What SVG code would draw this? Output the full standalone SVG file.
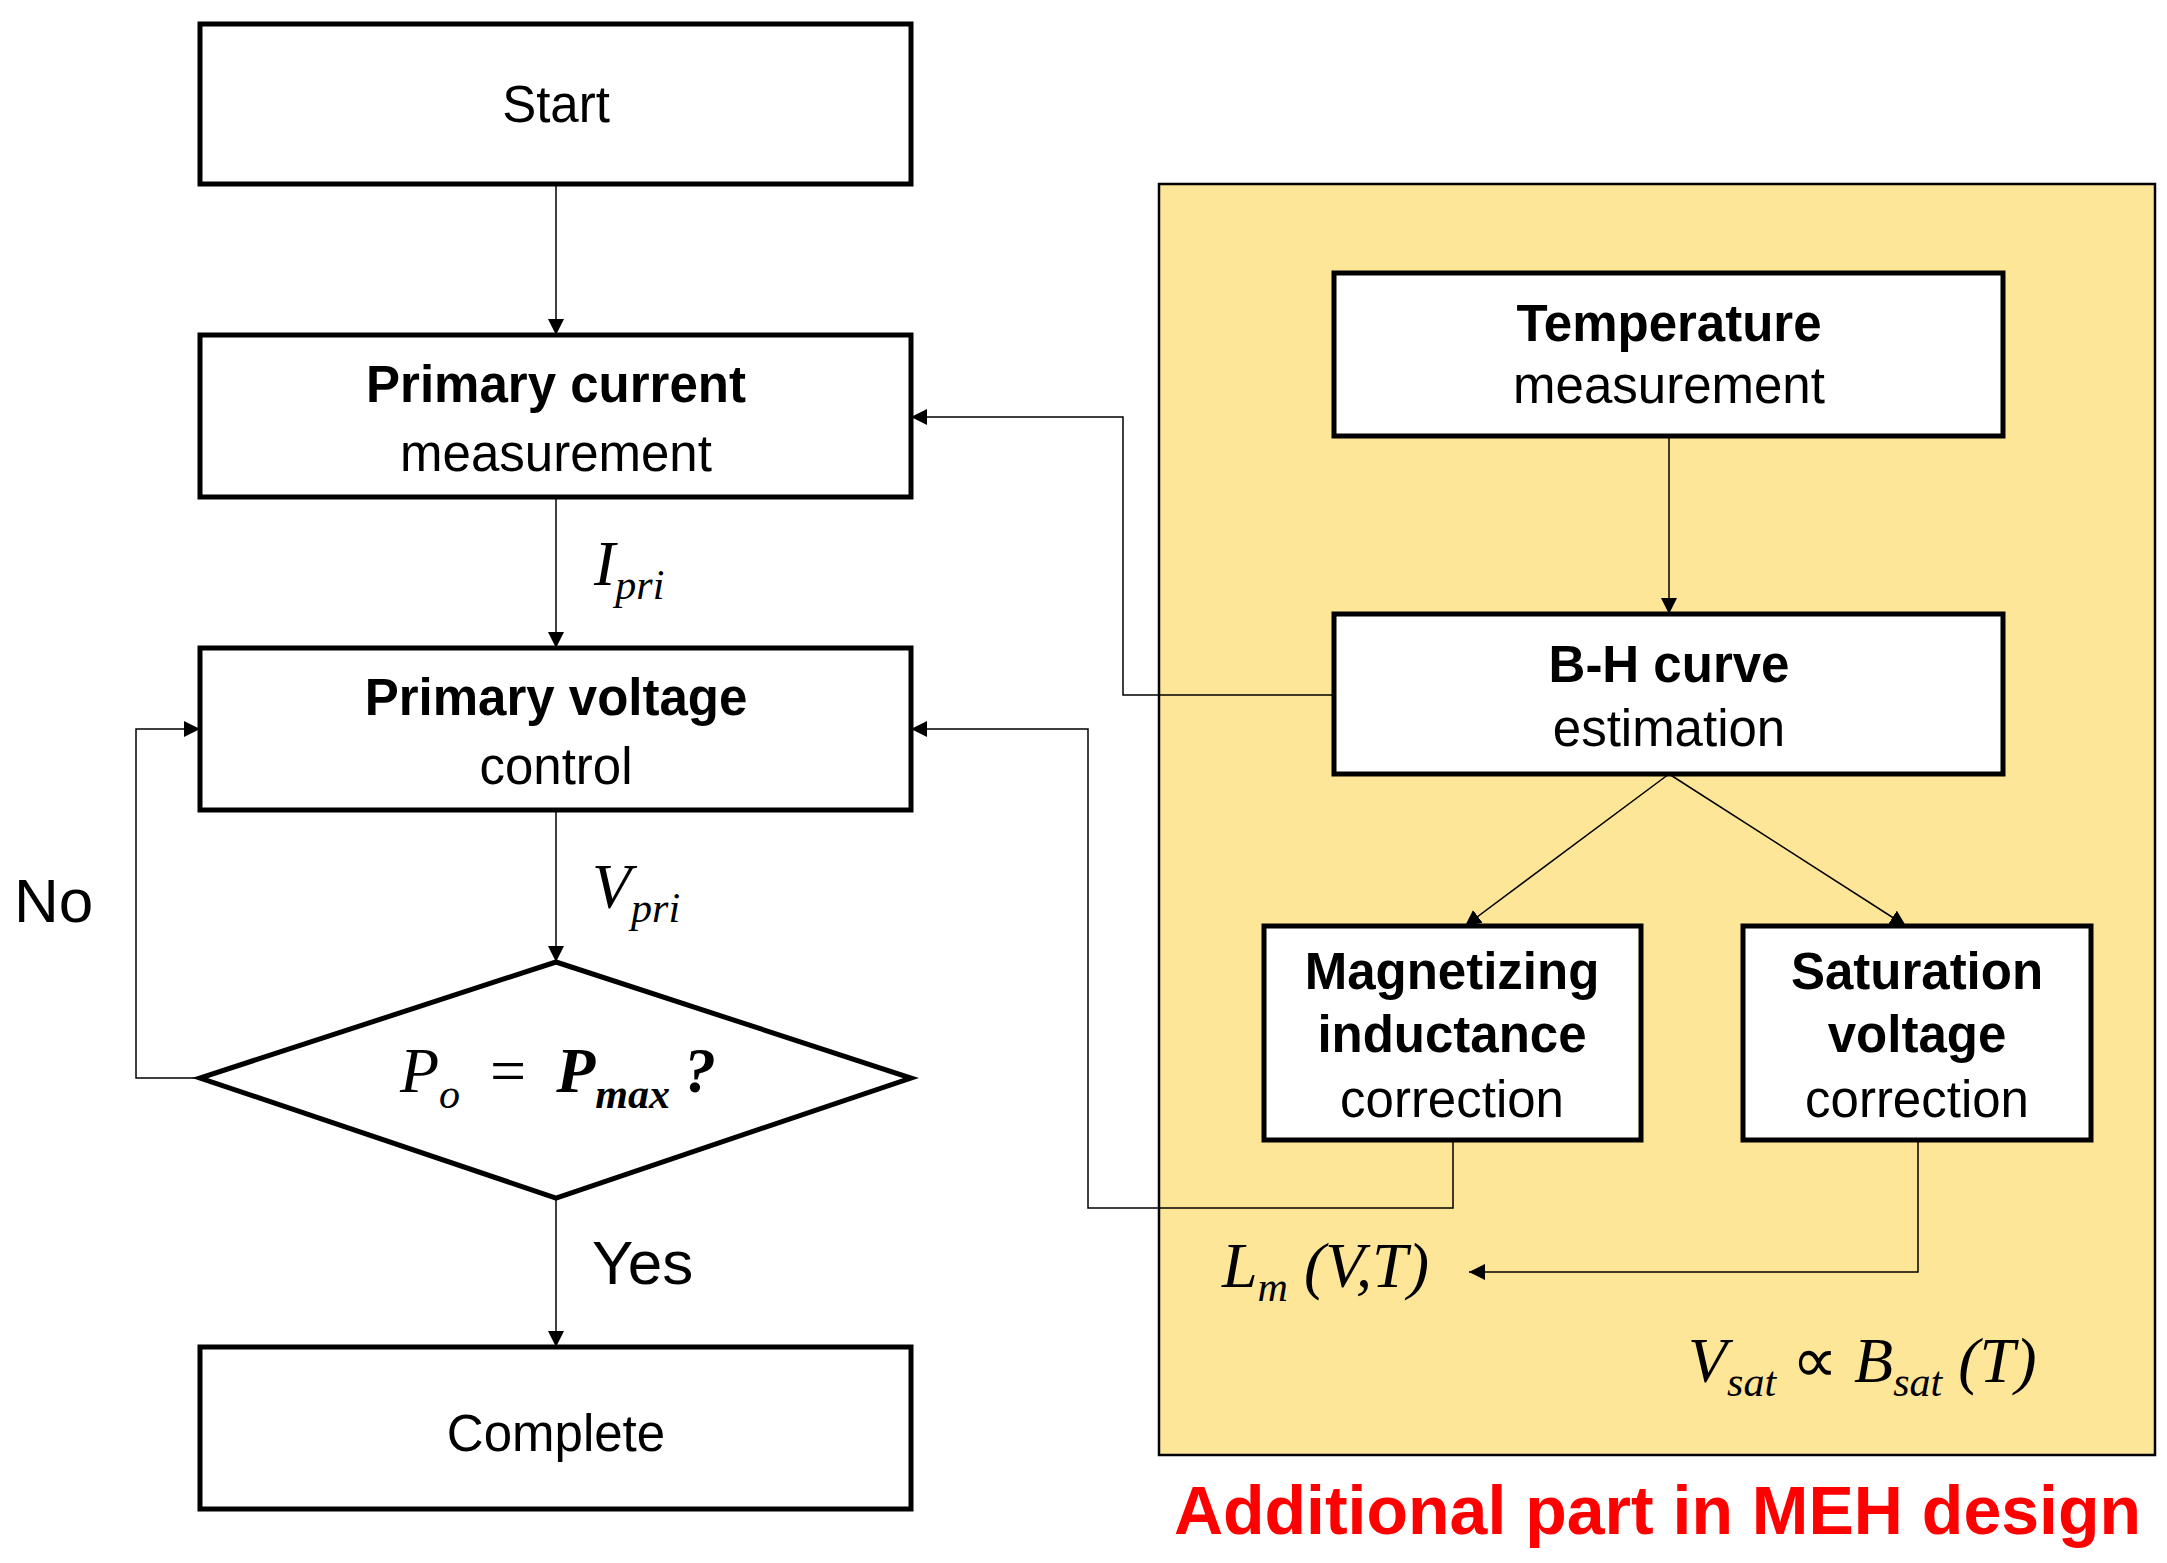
<svg xmlns="http://www.w3.org/2000/svg" width="2167" height="1563" viewBox="0 0 2167 1563">
<defs>
<style>
.b{fill:#fff;stroke:#000;stroke-width:5}
.t{font-family:"Liberation Sans",Arial,sans-serif;font-size:51px;text-anchor:middle}
.bd{font-weight:bold}
.m{font-family:"Liberation Serif","Times New Roman",serif;font-style:italic}
.c{fill:none;stroke:#000;stroke-width:1.5}
</style>
<marker id="a" viewBox="0 0 10 10" refX="10" refY="5" markerWidth="16" markerHeight="16" markerUnits="userSpaceOnUse" orient="auto"><path d="M0,0L10,5L0,10z"/></marker>
</defs>
<rect x="0" y="0" width="2167" height="1563" fill="#fff"/>
<g id="panel"><rect x="1159" y="184" width="996" height="1271" fill="#fee699" stroke="#000" stroke-width="2.5"/>
<text x="2141" y="1534" font-family="Liberation Sans,Arial,sans-serif" font-weight="bold" font-size="68" fill="#f00" text-anchor="end">Additional part in MEH design</text></g>
<g id="start"><rect class="b" x="200" y="24" width="711" height="160"/><text class="t" x="556" y="122">Start</text></g>
<g id="current"><rect class="b" x="200" y="335" width="711" height="162"/><text class="t bd" x="556" y="402">Primary current</text><text class="t" x="556" y="471">measurement</text></g>
<g id="voltage"><rect class="b" x="200" y="648" width="711" height="162"/><text class="t bd" x="556" y="715">Primary voltage</text><text class="t" x="556" y="784">control</text></g>
<g id="decision"><polygon class="b" points="556,962 911,1078 556,1198 200,1078"/>
<text class="m" x="400" y="1092" font-size="64">P<tspan font-size="42" dy="16">o</tspan><tspan dy="-16" dx="30" font-style="normal">=</tspan><tspan dx="30" font-weight="bold">P</tspan><tspan font-size="42" dy="16" font-weight="bold">max</tspan><tspan dy="-16" dx="14" font-weight="bold">?</tspan></text></g>
<g id="complete"><rect class="b" x="200" y="1347" width="711" height="162"/><text class="t" x="556" y="1451">Complete</text></g>
<g id="temp"><rect class="b" x="1334" y="273" width="669" height="163"/><text class="t bd" x="1669" y="341">Temperature</text><text class="t" x="1669" y="403">measurement</text></g>
<g id="bh"><rect class="b" x="1334" y="614" width="669" height="160"/><text class="t bd" x="1669" y="682">B-H curve</text><text class="t" x="1669" y="746">estimation</text></g>
<g id="mag"><rect class="b" x="1264" y="926" width="377" height="214"/><text class="t bd" x="1452" y="989">Magnetizing</text><text class="t bd" x="1452" y="1052">inductance</text><text class="t" x="1452" y="1117">correction</text></g>
<g id="sat"><rect class="b" x="1743" y="926" width="348" height="214"/><text class="t bd" x="1917" y="989">Saturation</text><text class="t bd" x="1917" y="1052">voltage</text><text class="t" x="1917" y="1117">correction</text></g>
<g id="connectors">
<path class="c" marker-end="url(#a)" d="M556,184V335"/>
<path class="c" marker-end="url(#a)" d="M556,497V648"/>
<path class="c" marker-end="url(#a)" d="M556,810V962"/>
<path class="c" marker-end="url(#a)" d="M556,1198V1347"/>
<path class="c" marker-end="url(#a)" d="M200,1078H136V729H200"/>
<path class="c" marker-end="url(#a)" d="M1669,436V614"/>
<path class="c" marker-end="url(#a)" d="M1669,774L1465,926"/>
<path class="c" marker-end="url(#a)" d="M1669,774L1906,926"/>
<path class="c" marker-end="url(#a)" d="M1334,695H1123V417H911"/>
<path class="c" marker-end="url(#a)" d="M1453,1140V1208H1088V729H911"/>
<path class="c" marker-end="url(#a)" d="M1918,1140V1272H1469"/>
</g>
<g id="labels" class="m" font-size="64">
<text x="594" y="585">I<tspan font-size="42" dy="14">pri</tspan></text>
<text x="592" y="908">V<tspan font-size="42" dy="14">pri</tspan></text>
<text x="1222" y="1287">L<tspan font-size="42" dy="14">m</tspan><tspan dy="-14"> (V,T)</tspan></text>
<text x="1688" y="1382">V<tspan font-size="42" dy="14">sat</tspan><tspan dy="-14" font-style="normal"> ∝ </tspan>B<tspan font-size="42" dy="14">sat</tspan><tspan dy="-14"> (T)</tspan></text>
<text x="14" y="922" font-family="Liberation Sans,Arial,sans-serif" font-style="normal" font-size="62">No</text>
<text x="592" y="1284" font-family="Liberation Sans,Arial,sans-serif" font-style="normal" font-size="62">Yes</text>
</g>
</svg>
